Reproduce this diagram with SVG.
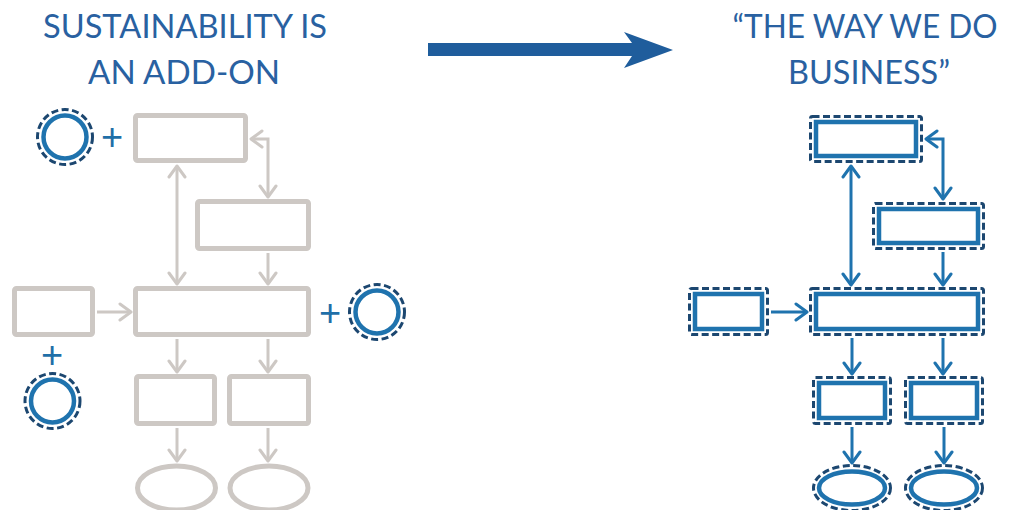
<svg xmlns="http://www.w3.org/2000/svg" width="1015" height="510" viewBox="0 0 1015 510">
<style>
.title{font-family:Lato,"Liberation Sans",sans-serif;font-size:32px;fill:#2961a1;text-anchor:middle}
.plus{font-family:"Liberation Sans",Arial,sans-serif;font-size:38px;fill:#1f6fa8;text-anchor:middle}
.g{fill:#fff;stroke:#cdc8c4;stroke-width:5}
.gl{fill:none;stroke:#cdc8c4;stroke-width:3}
.bl{fill:none;stroke:#1f73ae;stroke-width:3}
.sol{fill:#fff;stroke:#1f73ae;stroke-width:4.5}
.dash{fill:none;stroke:#1c4770;stroke-width:3;stroke-dasharray:7 3.5}
</style>
<defs>
<marker id="ag" viewBox="-14 -11 16 22" refX="0" refY="0" markerUnits="userSpaceOnUse" markerWidth="16" markerHeight="22" orient="auto-start-reverse">
<path d="M-11,-8 L0,0 L-11,8" fill="none" stroke="#cdc8c4" stroke-width="3" stroke-linecap="round" stroke-linejoin="round"/>
</marker>
<marker id="ab" viewBox="-14 -11 16 22" refX="0" refY="0" markerUnits="userSpaceOnUse" markerWidth="16" markerHeight="22" orient="auto-start-reverse">
<path d="M-11,-8 L0,0 L-11,8" fill="none" stroke="#1f73ae" stroke-width="3" stroke-linecap="round" stroke-linejoin="round"/>
</marker>
</defs>

<g id="title-left">
<text class="title" x="185" y="38" textLength="284" lengthAdjust="spacingAndGlyphs">SUSTAINABILITY IS</text>
<text class="title" x="184" y="84" textLength="192" lengthAdjust="spacingAndGlyphs">AN ADD-ON</text>
</g>
<g id="title-right">
<text class="title" x="865" y="38" textLength="265" lengthAdjust="spacingAndGlyphs">“THE WAY WE DO</text>
<text class="title" x="869" y="84" textLength="162" lengthAdjust="spacingAndGlyphs">BUSINESS”</text>
</g>
<g id="big-arrow">
<polygon points="428,43 632,43 624,32 673,50 624,68 632,56 428,56" fill="#1f5d9c"/>
</g>

<!-- left connectors -->
<g id="connectors-left">
<line class="gl" x1="177" y1="166" x2="177" y2="284" marker-start="url(#ag)" marker-end="url(#ag)"/>
<path class="gl" d="M251,139 H268 V197" marker-start="url(#ag)" marker-end="url(#ag)"/>
<line class="gl" x1="268" y1="253" x2="268" y2="284" marker-end="url(#ag)"/>
<line class="gl" x1="97" y1="312" x2="131" y2="312" marker-end="url(#ag)"/>
<line class="gl" x1="177" y1="339" x2="177" y2="372" marker-end="url(#ag)"/>
<line class="gl" x1="268" y1="339" x2="268" y2="372" marker-end="url(#ag)"/>
<line class="gl" x1="177" y1="428" x2="177" y2="461" marker-end="url(#ag)"/>
<line class="gl" x1="268" y1="428" x2="268" y2="461" marker-end="url(#ag)"/>
</g>

<g id="left-top"><rect class="g" x="135.5" y="115.5" width="110" height="45" rx="2"/></g>
<g id="left-second"><rect class="g" x="197.5" y="201.5" width="111" height="47" rx="2"/></g>
<g id="left-main"><rect class="g" x="135.5" y="288.5" width="173" height="46" rx="2"/></g>
<g id="left-input"><rect class="g" x="14.5" y="288.5" width="78" height="46" rx="2"/></g>
<g id="left-r1"><rect class="g" x="136.5" y="376.5" width="78" height="47" rx="2"/></g>
<g id="left-r2"><rect class="g" x="229.5" y="376.5" width="79" height="47" rx="2"/></g>
<g id="left-e1"><ellipse class="g" cx="176.5" cy="488" rx="39" ry="22"/></g>
<g id="left-e2"><ellipse class="g" cx="269" cy="488" rx="39" ry="22"/></g>

<g id="addon-1">
<circle class="dash" cx="65" cy="137" r="27.5"/>
<circle class="sol" cx="65" cy="137" r="21.5"/>
<text class="plus" x="112" y="150">+</text>
</g>
<g id="addon-2">
<circle class="dash" cx="377" cy="312" r="27.5"/>
<circle class="sol" cx="377" cy="312" r="21.5"/>
<text class="plus" x="330" y="326">+</text>
</g>
<g id="addon-3">
<circle class="dash" cx="52.5" cy="401" r="27.5"/>
<circle class="sol" cx="52.5" cy="401" r="21.5"/>
<text class="plus" x="52" y="368">+</text>
</g>

<!-- right connectors -->
<g id="connectors-right">
<line class="bl" x1="851" y1="166" x2="851" y2="285" marker-start="url(#ab)" marker-end="url(#ab)"/>
<path class="bl" d="M926,139 H943 V199" marker-start="url(#ab)" marker-end="url(#ab)"/>
<line class="bl" x1="943" y1="252" x2="943" y2="285" marker-end="url(#ab)"/>
<line class="bl" x1="771" y1="312" x2="807" y2="312" marker-end="url(#ab)"/>
<line class="bl" x1="852" y1="338" x2="852" y2="374" marker-end="url(#ab)"/>
<line class="bl" x1="943" y1="338" x2="943" y2="374" marker-end="url(#ab)"/>
<line class="bl" x1="852" y1="427" x2="852" y2="463" marker-end="url(#ab)"/>
<line class="bl" x1="944" y1="427" x2="944" y2="463" marker-end="url(#ab)"/>
</g>

<g id="right-top">
<rect class="dash" x="810.5" y="116.5" width="111" height="45" rx="2"/>
<rect class="sol" x="816" y="122" width="100" height="34"/>
</g>
<g id="right-second">
<rect class="dash" x="873.5" y="203.5" width="110" height="45" rx="2"/>
<rect class="sol" x="879" y="209" width="99" height="34"/>
</g>
<g id="right-main">
<rect class="dash" x="810.5" y="288.5" width="173" height="46" rx="2"/>
<rect class="sol" x="816" y="294" width="162" height="35"/>
</g>
<g id="right-input">
<rect class="dash" x="689.5" y="288.5" width="78" height="46" rx="2"/>
<rect class="sol" x="695" y="294" width="67" height="35"/>
</g>
<g id="right-r1">
<rect class="dash" x="813.5" y="377.5" width="77" height="46" rx="2"/>
<rect class="sol" x="819" y="383" width="66" height="35"/>
</g>
<g id="right-r2">
<rect class="dash" x="905.5" y="377.5" width="77" height="46" rx="2"/>
<rect class="sol" x="911" y="383" width="66" height="35"/>
</g>
<g id="right-e1">
<ellipse class="dash" cx="852" cy="488" rx="38.5" ry="22.5"/>
<ellipse class="sol" cx="852" cy="488" rx="33" ry="16.5"/>
</g>
<g id="right-e2">
<ellipse class="dash" cx="944" cy="488" rx="38.5" ry="22.5"/>
<ellipse class="sol" cx="944" cy="488" rx="33" ry="16.5"/>
</g>
</svg>
